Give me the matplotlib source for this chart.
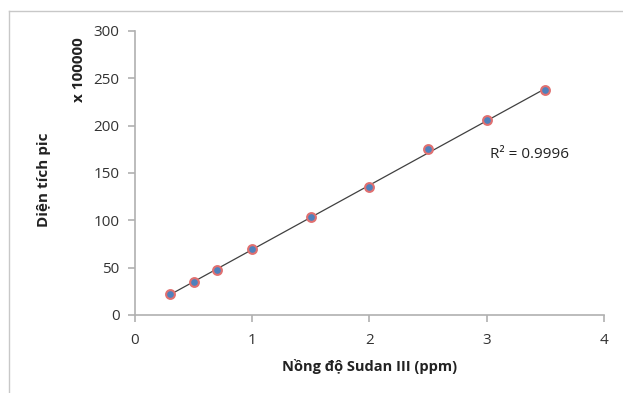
import matplotlib
matplotlib.use("Agg")
import matplotlib.pyplot as plt
import numpy as np
from matplotlib.lines import Line2D

plt.rcParams['font.family'] = ['Open Sans', 'DejaVu Sans']

conc = [0.3, 0.5, 0.7, 1.0, 1.5, 2.0, 2.5, 3.0, 3.5]
area = [22, 35, 47.5, 70, 103, 135, 175, 205.5, 237.5]
xticks = [0, 1, 2, 3, 4]
yticks = [0, 50, 100, 150, 200, 250, 300]

W, H = 623, 393
fig = plt.figure(figsize=(W/100, H/100), dpi=100)
ax = fig.add_axes([135/W, 1-315/H, (604-135)/W, (315-31)/H])

x = np.array(conc); y = np.array(area)
m, b = np.polyfit(x, y, 1)
xs = np.array([x.min(), x.max()])
ax.plot(xs, m*xs+b, color='#404040', lw=0.9, zorder=2)
ax.scatter(x, y, s=40, facecolor='#4F81BD', edgecolor='#E07070', linewidth=1.5, zorder=3)

ax.set_xlim(0, 4)
ax.set_ylim(0, 300)
ax.set_xticks(xticks)
ax.set_yticks(yticks)
for s in ['top', 'right']:
    ax.spines[s].set_visible(False)
for s in ['left', 'bottom']:
    ax.spines[s].set_color('#b0b0b0')
    ax.spines[s].set_linewidth(1.2)
ax.tick_params(colors='#b0b0b0', labelcolor='#333333', labelsize=11, length=5, width=1.2)
ax.tick_params(axis='y', pad=6)
ax.tick_params(axis='x', pad=8)

ax.text(3.03, 170, 'R² = 0.9996', fontsize=11, color='#222222', va='center', ha='left')

fig.text(370/W, 1-366/H, 'Nồng độ Sudan III (ppm)', fontsize=10.5, fontweight='bold',
         ha='center', va='center', color='#222222')
fig.text(44/W, 1-180/H, 'Diện tích pic', fontsize=11, fontweight='bold', rotation=90,
         ha='center', va='center', color='#222222')
fig.text(79/W, 1-70/H, 'x 100000', fontsize=11, fontweight='bold', rotation=90,
         ha='center', va='center', color='#222222')

# outer frame
fig.add_artist(Line2D([8.5/W, 8.5/W], [1-11/H, 0], transform=fig.transFigure, color='#c8c8c8', lw=1))
fig.add_artist(Line2D([8.5/W, 1], [1-11/H, 1-11/H], transform=fig.transFigure, color='#c8c8c8', lw=1))

fig.savefig('out.png', dpi=100)
